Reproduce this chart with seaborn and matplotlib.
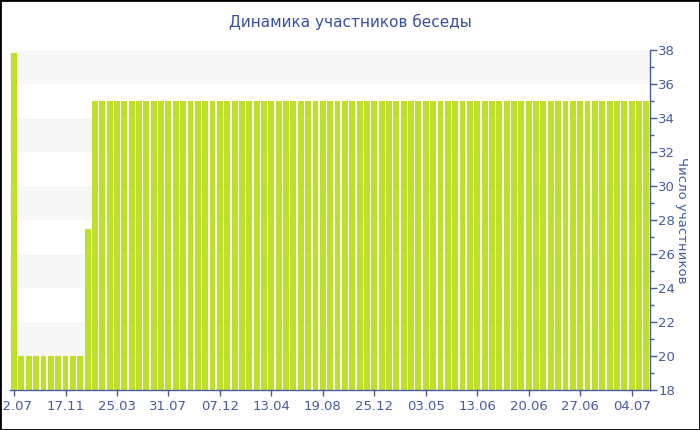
import numpy as np
import pandas as pd
import matplotlib
matplotlib.use("Agg")
import matplotlib.pyplot as plt
import seaborn as sns
from matplotlib.ticker import MultipleLocator

# participant counts per period
first_vals = [37.8]
low_vals = [20] * 9
step_vals = [27.5]
high_vals = [35] * 76
counts = first_vals + low_vals + step_vals + high_vals

tick_labels = ["12.07", "17.11", "25.03", "31.07", "07.12", "13.04", "19.08",
               "25.12", "03.05", "13.06", "20.06", "27.06", "04.07"]
tick_step = 7

df = pd.DataFrame({"idx": np.arange(len(counts)), "count": counts})

sns.set_style("white")
plt.rcParams['font.family'] = ['DejaVu Sans']

blue = "#4a5a9e"
fig = plt.figure(figsize=(7, 4.3), dpi=100)
ax = fig.add_axes([10 / 700, 40 / 430, 640 / 700, 340 / 430])

# alternating background bands
for lo in range(20, 38, 4):
    ax.axhspan(lo, lo + 2, color="#f7f7f7", zorder=0, lw=0)

sns.barplot(data=df, x="idx", y="count", color="#bfe02a", saturation=1,
            width=0.8, edgecolor="none", linewidth=0, ax=ax, zorder=2)

ax.set_ylim(18, 38)
ax.set_xlim(-0.55, len(counts) - 0.5)
ax.set_xticks(np.arange(0, len(tick_labels) * tick_step, tick_step))
ax.set_xticklabels(tick_labels)
ax.set_xlabel("")

ax.yaxis.tick_right()
ax.yaxis.set_label_position("right")
ax.yaxis.set_major_locator(MultipleLocator(2))
ax.yaxis.set_minor_locator(MultipleLocator(1))
ax.set_ylabel("Число участников", rotation=270, labelpad=9, color=blue, fontsize=9.5)

for s in ["top", "left"]:
    ax.spines[s].set_visible(False)
for s in ["right", "bottom"]:
    ax.spines[s].set_color(blue)
    ax.spines[s].set_linewidth(1)

ax.tick_params(axis="x", colors=blue, labelsize=9.5, length=4, width=1, direction="out", bottom=True)
ax.tick_params(axis="y", which="major", colors=blue, labelsize=9.5, length=5, width=1, right=True, pad=1)
ax.tick_params(axis="y", which="minor", colors=blue, length=3, width=1, right=True)
for lbl in ax.get_xticklabels() + ax.get_yticklabels():
    lbl.set_color(blue)

fig.text(0.5, 1 - 22 / 430, "Динамика участников беседы", ha="center", va="center",
         color="#3b4fa0", fontsize=11)

# outer border
fig.patches.append(plt.Rectangle((0, 0), 1, 1, transform=fig.transFigure,
                                 fill=False, edgecolor="black", lw=2))

fig.savefig("out.png", dpi=100)
